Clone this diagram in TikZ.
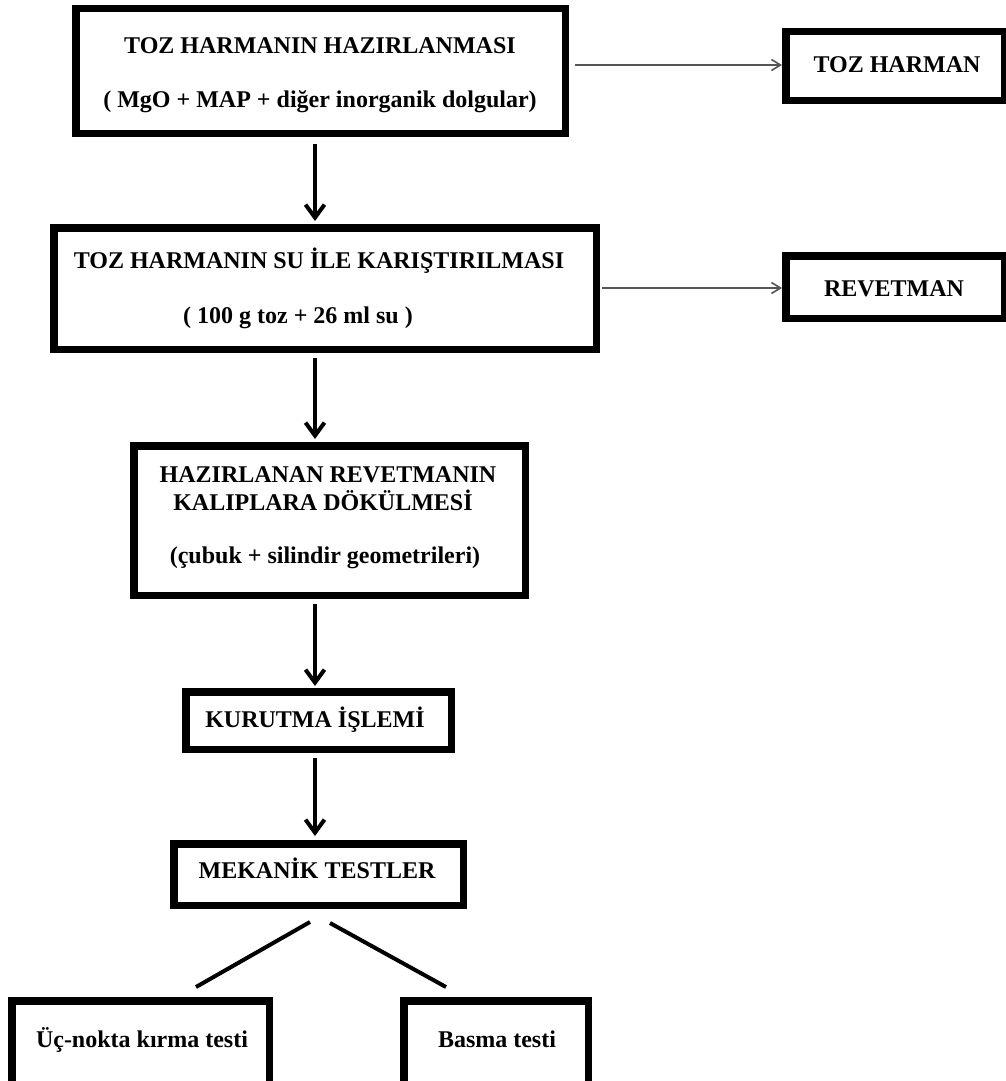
\documentclass[tikz,border=0pt]{standalone}
\usepackage{fontspec}
\setmainfont{Liberation Serif}
\usetikzlibrary{arrows.meta,calc}
\definecolor{hgray}{RGB}{85,85,85}
\begin{document}
\begin{tikzpicture}[x=1pt,y=-1pt,
  box/.style={draw=black, line width=7.5pt, inner sep=0pt, outer sep=0pt, rectangle},
  lbl/.style={font=\fontsize{24}{28}\selectfont\bfseries, anchor=base, inner sep=0pt},
  varrow/.style={line width=4pt, -{Straight Barb[length=13pt,width=19pt]}},
  harrow/.style={line width=1.6pt, draw=hgray, -{Straight Barb[length=9pt,width=11pt]}},
  dline/.style={line width=4pt},
]
\useasboundingbox (0,0) rectangle (1006,1081);
\fill[white] (0,0) rectangle (1006,1081);

% boxes
\node[box, minimum width=489.5pt, minimum height=124.5pt] (b1) at (320.5,71) {};
\node[box, minimum width=542.5pt, minimum height=121.5pt] (b2) at (325,288.5) {};
\node[box, minimum width=391.5pt, minimum height=149.5pt] (b3) at (329.5,520.5) {};
\node[box, minimum width=265.5pt, minimum height=57.5pt] (b4) at (318.5,720.5) {};
\node[box, minimum width=289.5pt, minimum height=61.5pt] (b5) at (318.5,874.5) {};
\node[box, minimum width=257.5pt, minimum height=87.5pt] (b6) at (140.5,1044.5) {};
\node[box, minimum width=184.5pt, minimum height=87.5pt] (b7) at (496,1044.5) {};
\node[box, minimum width=218.5pt, minimum height=68.5pt] (th) at (895,66) {};
\node[box, minimum width=218.5pt, minimum height=62.5pt] (rv) at (895,287) {};

% texts
\node[lbl] (t1a) at (320,53) {TOZ HARMANIN HAZIRLANMASI};
\node[lbl] (t1b) at (320,107) {( MgO + MAP + diğer inorganik dolgular)};
\node[lbl] (t2a) at (319,268) {TOZ HARMANIN SU İLE KARIŞTIRILMASI};
\node[lbl] (t2b) at (298,323) {( 100 g toz + 26 ml su )};
\node[lbl] (t3a) at (328,482) {HAZIRLANAN REVETMANIN};
\node[lbl] (t3b) at (323,510) {KALIPLARA DÖKÜLMESİ};
\node[lbl] (t3c) at (325,563) {(çubuk + silindir geometrileri)};
\node[lbl] (t4) at (315,727) {KURUTMA İŞLEMİ};
\node[lbl] (t5) at (317,878) {MEKANİK TESTLER};
\node[lbl] (t6) at (142,1047) {Üç-nokta kırma testi};
\node[lbl] (t7) at (497,1047) {Basma testi};
\node[lbl] (tth) at (897,73) {TOZ HARMAN};
\node[lbl] (trv) at (894,296) {REVETMAN};

% vertical arrows
\draw[varrow] ([xshift=-5.5pt,yshift=-10.75pt]b1.south) -- ([xshift=-10pt,yshift=6.75pt]b2.north);
\draw[varrow] ([xshift=-10pt,yshift=-8.75pt]b2.south) -- ([xshift=-14.5pt,yshift=6.75pt]b3.north);
\draw[varrow] ([xshift=-14.5pt,yshift=-8.75pt]b3.south) -- ([xshift=-3.5pt,yshift=5.75pt]b4.north);
\draw[varrow] ([xshift=-3.5pt,yshift=-8.75pt]b4.south) -- ([xshift=-3.5pt,yshift=7.75pt]b5.north);

% horizontal arrows
\draw[harrow] ($(b1.east |- th.west)+(9.75,-1)$) -- ($(th.west)+(-3.75,-1)$);
\draw[harrow] ($(b2.east |- rv.west)+(5.75,1)$) -- ($(rv.west)+(-3.75,1)$);

% diagonal lines
\draw[dline] ([xshift=-8.5pt,yshift=-16.75pt]b5.south) -- ([xshift=55.5pt,yshift=13.75pt]b6.north);
\draw[dline] ([xshift=11.5pt,yshift=-17.75pt]b5.south) -- ([xshift=-50pt,yshift=13.75pt]b7.north);
\end{tikzpicture}
\end{document}
